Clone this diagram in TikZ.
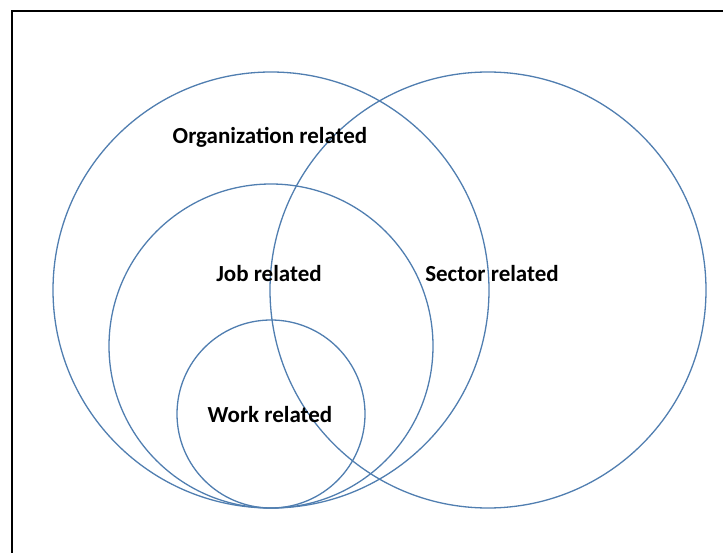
\documentclass[tikz,border=0pt]{standalone}
\usepackage{fontspec}
\setmainfont{Carlito}
\definecolor{ringblue}{RGB}{80,126,176}
\begin{document}
\begin{tikzpicture}[x=1pt,y=-1pt,
  ring/.style={circle, draw=ringblue, line width=1.3pt, inner sep=0pt, minimum size=#1},
  tag/.style={font=\bfseries\fontsize{23}{27}\selectfont, text=black, inner sep=0pt}]
  \useasboundingbox (0,0) rectangle (723,553);
  % open frame: top and left edges only
  \draw[line width=2.5pt] (12,553) -- (12,11) -- (723,11);
  % nested and overlapping sets
  \node[ring=436pt] (org) at (271,290) {};
  \node[ring=436pt] (sector) at (488,290) {};
  \node[ring=324pt] (job) at (271,346) {};
  \node[ring=188pt] (work) at (271,414) {};
  % labels
  \node[tag] (orgtxt) at (270,137.5) {Organization related};
  \node[tag] (jobtxt) at (269,273.5) {Job related};
  \node[tag] (sectortxt) at (492,273.5) {Sector related};
  \node[tag] (worktxt) at (270,414.5) {Work related};
\end{tikzpicture}
\end{document}
